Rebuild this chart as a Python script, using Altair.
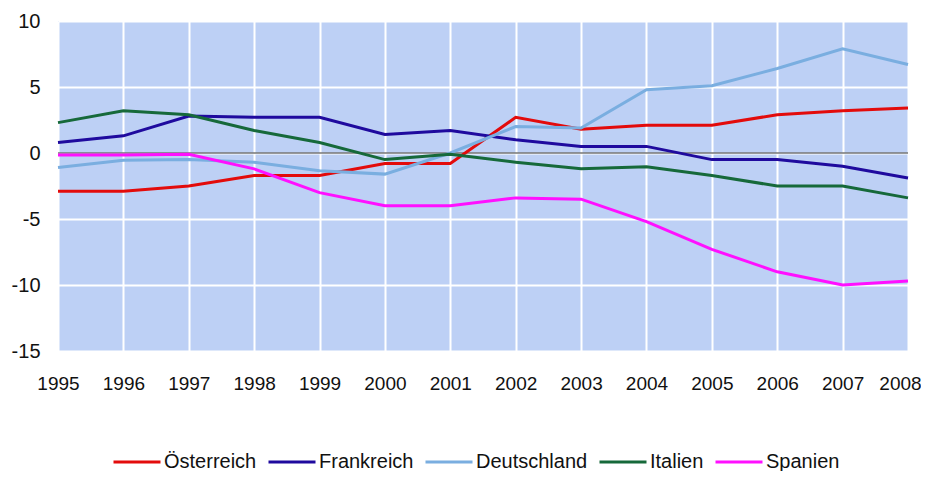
import altair as alt
import pandas as pd

years = list(range(1995, 2009))
series_names = ["Österreich", "Frankreich", "Deutschland", "Italien", "Spanien"]
oesterreich = [-2.9, -2.9, -2.5, -1.7, -1.7, -0.8, -0.8, 2.7, 1.8, 2.1, 2.1, 2.9, 3.2, 3.4]
frankreich = [0.8, 1.3, 2.8, 2.7, 2.7, 1.4, 1.7, 1.0, 0.5, 0.5, -0.5, -0.5, -1.0, -1.9]
deutschland = [-1.1, -0.55, -0.5, -0.7, -1.35, -1.6, 0.0, 2.0, 1.9, 4.8, 5.1, 6.4, 7.9, 6.7]
italien = [2.3, 3.2, 2.9, 1.7, 0.8, -0.5, -0.1, -0.7, -1.2, -1.05, -1.7, -2.5, -2.5, -3.4]
spanien = [-0.15, -0.15, -0.1, -1.2, -3.0, -4.0, -4.0, -3.4, -3.5, -5.2, -7.3, -9.0, -10.0, -9.7]
colors = ["#e30b0b", "#1f0a9e", "#7aaee0", "#16693a", "#ff10ff"]

rows = []
for name, vals in zip(series_names, [oesterreich, frankreich, deutschland, italien, spanien]):
    for y, v in zip(years, vals):
        rows.append({"Jahr": y, "Wert": v, "Land": name})
df = pd.DataFrame(rows)

FONT = "Liberation Sans"

x = alt.X("Jahr:Q", scale=alt.Scale(domain=[1995, 2008], nice=False, zero=False),
          axis=alt.Axis(values=years, format="d", title=None, grid=True, gridColor="white",
                        gridWidth=2, domain=False, ticks=False, labelPadding=23,
                        labelFlush=False, labelOverlap=False,
                        labelOffset={"condition": {"test": "datum.value == 2008", "value": -8}, "value": 0},
                        labelFontSize=19, labelColor="#111", labelFont=FONT))
y = alt.Y("Wert:Q", scale=alt.Scale(domain=[-15, 10], nice=False),
          axis=alt.Axis(values=[-15, -10, -5, 0, 5, 10], title=None, grid=True, gridColor="white",
                        gridWidth=2, domain=False, ticks=False, labelPadding=18,
                        labelExpr="datum.value + ''", labelFlush=False,
                        labelFontSize=20, labelColor="#111", labelFont=FONT))

lines = alt.Chart(df).mark_line(strokeWidth=3).encode(
    x=x, y=y,
    color=alt.Color("Land:N", sort=series_names,
                    scale=alt.Scale(domain=series_names, range=colors),
                    legend=alt.Legend(title=None, orient="none", direction="horizontal",
                                      legendX=54, legendY=416, padding=0,
                                      symbolType="stroke", symbolSize=2209, symbolStrokeWidth=3,
                                      labelFontSize=20, labelFont=FONT, labelColor="#111",
                                      columnPadding=5, labelOffset=2)),
    detail="Land:N",
)

zero = alt.Chart(pd.DataFrame({"z": [0]})).mark_rule(color="#333333", strokeWidth=1.2).encode(
    y=alt.Y("z:Q")
)

chart = alt.layer(zero, lines).properties(
    width=850, height=330,
    background="white",
    autosize=alt.AutoSizeParams(type="none"),
    padding={"left": 50, "top": 13, "right": 13, "bottom": 120},
).configure_view(fill="#bdd0f5", stroke=None)

chart.save("out.html", embed_options={"renderer": "svg", "actions": False})
